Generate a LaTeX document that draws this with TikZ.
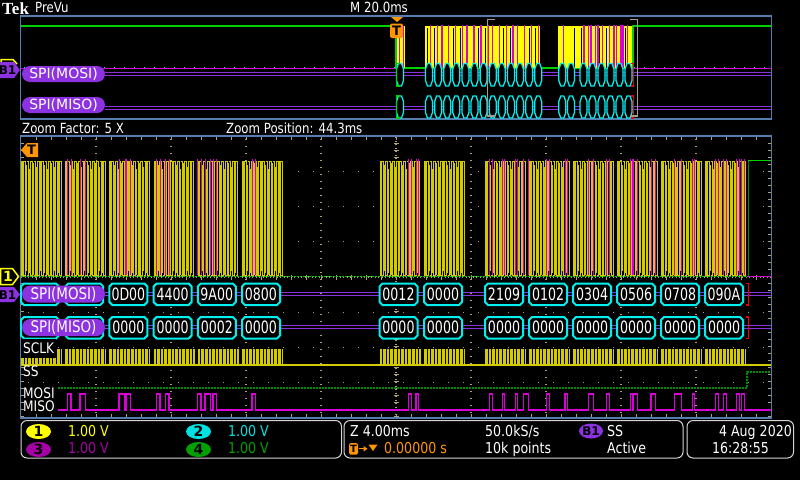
\documentclass[tikz,border=0pt]{standalone}
\usepackage{fontspec}
\setmainfont{DejaVu Sans}
\newfontfamily\scopef[FakeStretch=0.84]{DejaVu Sans}
\newfontfamily\boxf[FakeStretch=0.74]{DejaVu Sans}
\newfontfamily\tekf{Liberation Serif}
\definecolor{cFrame}{RGB}{85,125,175}
\definecolor{cYel}{RGB}{212,202,0}
\definecolor{cYB}{RGB}{255,255,0}
\definecolor{cMag}{RGB}{215,0,215}
\definecolor{cCyn}{RGB}{0,240,240}
\definecolor{cPur}{RGB}{140,50,225}
\definecolor{cGrn}{RGB}{0,210,0}
\definecolor{cDgrn}{RGB}{0,140,0}
\definecolor{cOrg}{RGB}{255,150,0}
\definecolor{cGrid}{RGB}{175,160,120}
\definecolor{cBrk}{RGB}{165,155,145}
\definecolor{cRed}{RGB}{240,0,0}
\definecolor{cLg}{RGB}{215,215,215}
\definecolor{cCh2}{RGB}{0,225,225}
\definecolor{cCh3}{RGB}{165,0,165}
\definecolor{cCh4}{RGB}{0,160,0}
\def\pulses{67.7/71,80/85.7,119/125,126.7/130.7,156.7/160,165.7/169,197.7/201,205/210.7,213/216.7,252/255.7,408.3/411.7,416/418.7,489.3/492.3,502.3/504.3,515.3/517.7,523.3/528.3,546.3/549.3,565/567.3,588.3/593.3,606.3/609.3,630.3/632.3,633.3/637.3,651/655.7,674.3/681.7,692.3/694.7,715.3/718.3,723.3/726.3,736.3/739.3,741.7/744.3}
\tikzset{
  wtxt/.style={anchor=base west, inner sep=0pt, text=white, font=\scopef\fontsize{15}{15}\selectfont},
  ltxt/.style={anchor=base west, inner sep=0pt, text=white, font=\scopef\fontsize{14}{14}\selectfont},
  hextxt/.style={anchor=base, inner sep=0pt, text=white, font=\boxf\fontsize{17}{17}\selectfont},
  pilltop/.style={fill=cPur, rounded corners=8pt, minimum width=83pt, minimum height=16pt, inner sep=0pt, text=white, font=\fontsize{14}{14}\selectfont},
  pillmain/.style={fill=cPur, rounded corners=8.5pt, minimum width=83pt, minimum height=17pt, inner sep=0pt, text=white, font=\scopef\fontsize{16}{16}\selectfont},
  hexbox/.style={draw=cCyn, line width=2pt, fill=black},
  ovalbox/.style={draw=cCyn, line width=1.3pt, fill=black},
  gdots/.style={cGrid, line width=1.2pt, dash pattern=on 1.2pt off 5.8pt},
  hdots/.style={cGrid, line width=1.2pt, dash pattern=on 1.2pt off 13.8pt},
  btn/.style={inner sep=0pt, text=black, font=\bfseries\fontsize{14}{14}\selectfont},
  statbox/.style={draw=cLg, line width=1pt, rounded corners=6pt},
}
\begin{document}
\begin{tikzpicture}[x=1pt,y=-1pt]
\useasboundingbox (0,0) rectangle (800,480);
\fill[black] (0,0) rectangle (800,480);

% ---------- header ----------
\node[anchor=base west, inner sep=0pt, text=white, font=\tekf\bfseries\fontsize{17}{17}\selectfont] (tek) at (2,14) {Tek};
\node[ltxt] (prevu) at (35,12.7) {PreVu};
\node[ltxt] (mtime) at (350,12.7) {M 20.0ms};

% ---------- PreVu window ----------
\draw[cFrame, line width=1.2pt] (20.5,16) rectangle (771.5,119);
\draw[cMag, line width=1.5pt] (21,68.5) -- (771,68.5);
\draw[cCyn, line width=1pt, dash pattern=on 1pt off 9pt] (24,67.8) -- (771,67.8);
\draw[cGrn, line width=1.3pt] (21,26) -- (396,26) -- (396,68) -- (633,68) -- (633,26) -- (771,26);
\draw[cPur, line width=1pt] (105,72.7) -- (771,72.7) (105,75.8) -- (771,75.8)
  (105,106) -- (771,106) (105,109) -- (771,109);
% bursts
\fill[cYB] (397,26) rectangle (405,68);
\fill[cMag] (399,26) rectangle ++(1.3,42);
\fill[cMag] (402.5,26) rectangle ++(1.2,42);
\fill[cYB] (425,25.5) rectangle (540,68);
\foreach \i in {0,...,49} {
  \pgfmathtruncatemacro\k{mod(\i*37+5,11)}
  \ifnum\k<4 \fill[cMag] (425+\i*2.3,24.5) rectangle ++(1.4,43.5); \fi
  \ifnum\k>8 \fill[black] (425+\i*2.3,28) rectangle ++(0.6,40); \fi
}
\fill[cYB] (558,25.5) rectangle (632,68);
\foreach \i in {0,...,31} {
  \pgfmathtruncatemacro\k{mod(\i*37+3,11)}
  \pgfmathtruncatemacro\lim{\i>9 ? 6 : 1}
  \ifnum\k<\lim \fill[cMag] (558+\i*2.3,24.5) rectangle ++(1.4,43.5); \fi
  \ifnum\k>8 \fill[black] (558+\i*2.3,28) rectangle ++(0.6,40); \fi
}
% bus ovals
\foreach \x in {396,425,434.1,443.2,452.3,461.4,470.5,479.6,488.7,497.8,506.9,516,525.1,534.2,558.3,567,579.5,588.5,597.5,606.5,615.5,624.5} {
  \draw[ovalbox] (\x+2.5,63.5) -- (\x+5.5,63.5) -- (\x+7.5,69) -- (\x+7.5,80.5) -- (\x+5.5,86) -- (\x+2.5,86) -- (\x+0.5,80.5) -- (\x+0.5,69) -- cycle;
  \draw[ovalbox] (\x+2.5,96) -- (\x+5.5,96) -- (\x+7.5,101.5) -- (\x+7.5,112.5) -- (\x+5.5,118) -- (\x+2.5,118) -- (\x+0.5,112.5) -- (\x+0.5,101.5) -- cycle;
}
\draw[cGrn, line width=1.6pt] (399.5,63.5) -- (396.5,63.5) -- (396.5,86) -- (399.5,86);
\draw[cGrn, line width=1.6pt] (399.5,96) -- (396.5,96) -- (396.5,118) -- (399.5,118);
\draw[cRed, line width=1.6pt] (630.5,63.5) -- (633.5,63.5) -- (633.5,86) -- (630.5,86);
\draw[cRed, line width=1.6pt] (630.5,96) -- (633.5,96) -- (633.5,118) -- (630.5,118);
% zoom brackets
\draw[cBrk, line width=1.5pt] (495,19.5) -- (487.5,19.5) -- (487.5,116) -- (495,116);
\draw[cBrk, line width=1.5pt] (630,19.5) -- (637.5,19.5) -- (637.5,116) -- (630,116);
% trigger marker
\fill[cOrg] (391,17) -- (403,17) -- (397,22) -- cycle;
\fill[cOrg, rounded corners=2pt] (390,23.5) rectangle (403,38);
\node[btn, font=\bfseries\fontsize{13}{13}\selectfont] (trigtop) at (396.5,30.8) {T};
% labels
\node[pilltop] (mositop) at (63.5,74) {SPI(MOSI)};
\node[pilltop] (misotop) at (63.5,105) {SPI(MISO)};
\draw[cYB, line width=1.5pt, fill=black] (1,66) -- (1,59.5) -- (13,59.5) -- (17,64);
\fill[cPur] (0,62) -- (14,62) -- (20,70) -- (14,78) -- (0,78) -- cycle;
\node[btn, font=\bfseries\fontsize{12}{12}\selectfont] (b1top) at (7.5,70) {B1};

\node[ltxt] (zf) at (22,133) {Zoom Factor: 5 X};
\node[ltxt] (zp) at (226,133) {Zoom Position: 44.3ms};

% ---------- main window ----------
\foreach \x in {96,171,246,321,471,546,621,696} \draw[gdots] (\x,139) -- (\x,417);
\foreach \y in {171.25,206.5,241.75,312.25,347.5,382.75} \draw[hdots] (28,\y) -- (770,\y);
\draw[cGrid, line width=1.2pt, dash pattern=on 1.2pt off 2.3pt] (396,137) -- (396,417);
\foreach \y in {143,150,...,416} {
  \draw[cGrid, line width=1pt] (393.5,\y) -- (398.5,\y);
  \draw[cGrid, line width=1pt] (21,\y) -- (24,\y);
  \draw[cGrid, line width=1pt] (768,\y) -- (771,\y);
}
\draw[cGrid, line width=1.2pt, dash pattern=on 1.2pt off 2.3pt] (21,277) -- (771,277);
\foreach \x in {36,51,...,756} {
  \draw[cGrid, line width=1pt] (\x,274.5) -- (\x,279.5);
  \draw[cGrid, line width=1pt] (\x,136.5) -- (\x,140);
  \draw[cGrid, line width=1pt] (\x,414) -- (\x,417.5);
}
\draw[cFrame, line width=1.2pt] (20.5,136) rectangle (771.5,418);

% yellow bursts (ch1) and SCLK
\draw[cYel, line width=1.3pt] (21,365) -- (771,365);
\foreach \s in {21,65.2,109.4,153.6,197.8,242,379.5,424,485,529,573,617,661,705} {
  \fill[cYel] (\s,161) rectangle (\s+41,276);
  \fill[cYel] (\s,349) rectangle (\s+41,365);
  \fill[black] (\s+40.6,161) rectangle (\s+42.6,276);
  \foreach \k in {1,...,11} {
    \pgfmathsetmacro\xx{round(\s+\k*3.6-1)+0.5}
    \pgfmathsetmacro\h{mod(\k*7,5)*2}
    \pgfmathsetmacro\hb{mod(\k*3,4)*2}
    \draw[black, line width=1pt] (\xx,162) -- (\xx,275);
    \fill[black] (\xx+1,160) rectangle (\xx+2,161+\h);
    \fill[black] (\xx+1,276.5-\hb) rectangle (\xx+2,276.5);
    \draw[black, line width=1pt] (\xx,349) -- (\xx,364.3);
  }
}
\foreach \a/\b in \pulses {
  \draw[cMag, line width=1pt] (\a,158.5) -- (\a,275) (\b,158.5) -- (\b,275);
}
\draw[cGrn, line width=1.2pt, dash pattern=on 1.5pt off 1.5pt] (21,276.5) -- (748,276.5);
\draw[cDgrn, line width=1pt] (748,276) -- (748,160.5);
\draw[cGrn, line width=1.5pt] (748,160.5) -- (771,160.5);
\draw[cMag, line width=1.5pt] (748,276.5) -- (771,276.5);
% trigger marker main
\fill[cOrg] (21,150) -- (27,143) -- (38,143) -- (38,157) -- (27,157) -- cycle;
\node[btn, font=\bfseries\fontsize{13}{13}\selectfont] (trigmain) at (31.5,150) {T};

% bus decode rows
\draw[cPur, line width=1pt] (105,292.3) -- (771,292.3) (105,295.8) -- (771,295.8)
  (105,325.2) -- (771,325.2) (105,328.6) -- (771,328.6);
\foreach \s in {21,65.2} {
  \draw[hexbox] (\s+3,283.5) -- (\s+35,283.5) -- (\s+38,286.5) -- (\s+38,302) -- (\s+35,305) -- (\s+3,305) -- (\s,302) -- (\s,286.5) -- cycle;
  \draw[hexbox] (\s+3,317) -- (\s+35,317) -- (\s+38,320) -- (\s+38,335.5) -- (\s+35,338.5) -- (\s+3,338.5) -- (\s,335.5) -- (\s,320) -- cycle;
}
\foreach \s/\ta/\tb [count=\i] in {109.4/0D00/0000,153.6/4400/0000,197.8/9A00/0002,242/0800/0000,379.5/0012/0000,424/0000/0000,485/2109/0000,529/0102/0000,573/0304/0000,617/0506/0000,661/0708/0000,705/090A/0000} {
  \draw[hexbox] (\s+3,283.5) -- (\s+35,283.5) -- (\s+38,286.5) -- (\s+38,302) -- (\s+35,305) -- (\s+3,305) -- (\s,302) -- (\s,286.5) -- cycle;
  \node[hextxt] (mo\i) at (\s+19,300.2) {\ta};
  \draw[hexbox] (\s+3,317) -- (\s+35,317) -- (\s+38,320) -- (\s+38,335.5) -- (\s+35,338.5) -- (\s+3,338.5) -- (\s,335.5) -- (\s,320) -- cycle;
  \node[hextxt] (mi\i) at (\s+19,333.5) {\tb};
}
\draw[cRed, line width=1.6pt] (745.5,283.5) -- (748.5,283.5) -- (748.5,305) -- (745.5,305);
\draw[cRed, line width=1.6pt] (745.5,317) -- (748.5,317) -- (748.5,338.5) -- (745.5,338.5);
\node[pillmain] (mosimain) at (63.5,294) {SPI(MOSI)};
\node[pillmain] (misomain) at (63.5,327.5) {SPI(MISO)};
% side markers
\draw[cYB, line width=1.5pt, fill=black] (0.5,268.5) -- (12.5,268.5) -- (18.5,276.5) -- (12.5,284.5) -- (0.5,284.5) -- cycle;
\node[inner sep=0pt, text=cYB, font=\bfseries\fontsize{14}{14}\selectfont] (ch1mark) at (8,276.5) {1};
\fill[cPur] (0,287) -- (14,287) -- (20,294.5) -- (14,302) -- (0,302) -- cycle;
\node[btn, font=\bfseries\fontsize{12}{12}\selectfont] (b1main) at (7.5,294.7) {B1};

% digital channels
\fill[black] (21,339) rectangle (56,357.5);
\node[ltxt, font=\scopef\fontsize{14.5}{14.5}\selectfont] (sclk) at (23,353) {SCLK};
\node[ltxt, font=\scopef\fontsize{14.5}{14.5}\selectfont] (ss) at (23,376) {SS};
\node[ltxt, font=\scopef\fontsize{14.5}{14.5}\selectfont] (mosi) at (23,398) {MOSI};
\node[ltxt, font=\scopef\fontsize{14.5}{14.5}\selectfont] (miso) at (23,411) {MISO};
\draw[cDgrn, line width=1.2pt, dash pattern=on 2pt off 1pt] (58,388) -- (747,388) -- (747,372) -- (771,372);
\draw[cMag, line width=1.2pt] (58,410) \foreach \a/\b in \pulses { -- (\a,410) -- (\a,394) -- (\b,394) -- (\b,410) } -- (771,410);

% ---------- status bar ----------
\draw[statbox] (21,420.5) rectangle (341.5,458);
\draw[statbox] (344,420.5) rectangle (683,458);
\draw[statbox] (687,420.5) rectangle (793.5,458);
\fill[cYB] (38.5,431.5) ellipse [x radius=12.5pt, y radius=7.5pt];
\node[btn] (b1) at (38.5,431.5) {1};
\fill[cCh3] (38.5,449.5) ellipse [x radius=12.5pt, y radius=7.5pt];
\node[btn] (b3) at (38.5,449.5) {3};
\fill[cCh2] (198.5,431.5) ellipse [x radius=12.5pt, y radius=7.5pt];
\node[btn] (b2) at (198.5,431.5) {2};
\fill[cCh4] (198.5,449.5) ellipse [x radius=12.5pt, y radius=7.5pt];
\node[btn] (b4) at (198.5,449.5) {4};
\node[wtxt, text=cYB] (v1) at (68,436) {1.00 V};
\node[wtxt, text=cCh3] (v3) at (68,453) {1.00 V};
\node[wtxt, text=cCh2] (v2) at (228,436) {1.00 V};
\node[wtxt, text=cCh4] (v4) at (228,453) {1.00 V};

\node[wtxt] (zscale) at (350,436) {Z 4.00ms};
\fill[cOrg, rounded corners=1.5pt] (349,443) rectangle (358,454.5);
\node[btn, font=\bfseries\fontsize{10}{10}\selectfont] (tstat) at (353.5,448.8) {T};
\draw[cOrg, line width=1.3pt] (359,448.8) -- (364.5,448.8);
\fill[cOrg] (363.5,446) -- (367.5,448.8) -- (363.5,451.6) -- cycle;
\fill[cOrg] (368.5,444.5) -- (377.5,444.5) -- (373,451) -- cycle;
\node[wtxt, text=cOrg] (tpos) at (384,453) {0.00000 s};
\node[wtxt] (srate) at (485,436) {50.0kS/s};
\node[wtxt] (pts) at (485,453) {10k points};
\fill[cPur] (591,431) ellipse [x radius=12pt, y radius=7.5pt];
\node[btn, font=\bfseries\fontsize{12}{12}\selectfont] (b1stat) at (591,431.3) {B1};
\node[wtxt] (sstxt) at (607,436) {SS};
\node[wtxt] (active) at (607,453) {Active};
\node[wtxt, anchor=base east] (date) at (792,436) {4 Aug 2020};
\node[wtxt] (time) at (712,453) {16:28:55};
\end{tikzpicture}
\end{document}
